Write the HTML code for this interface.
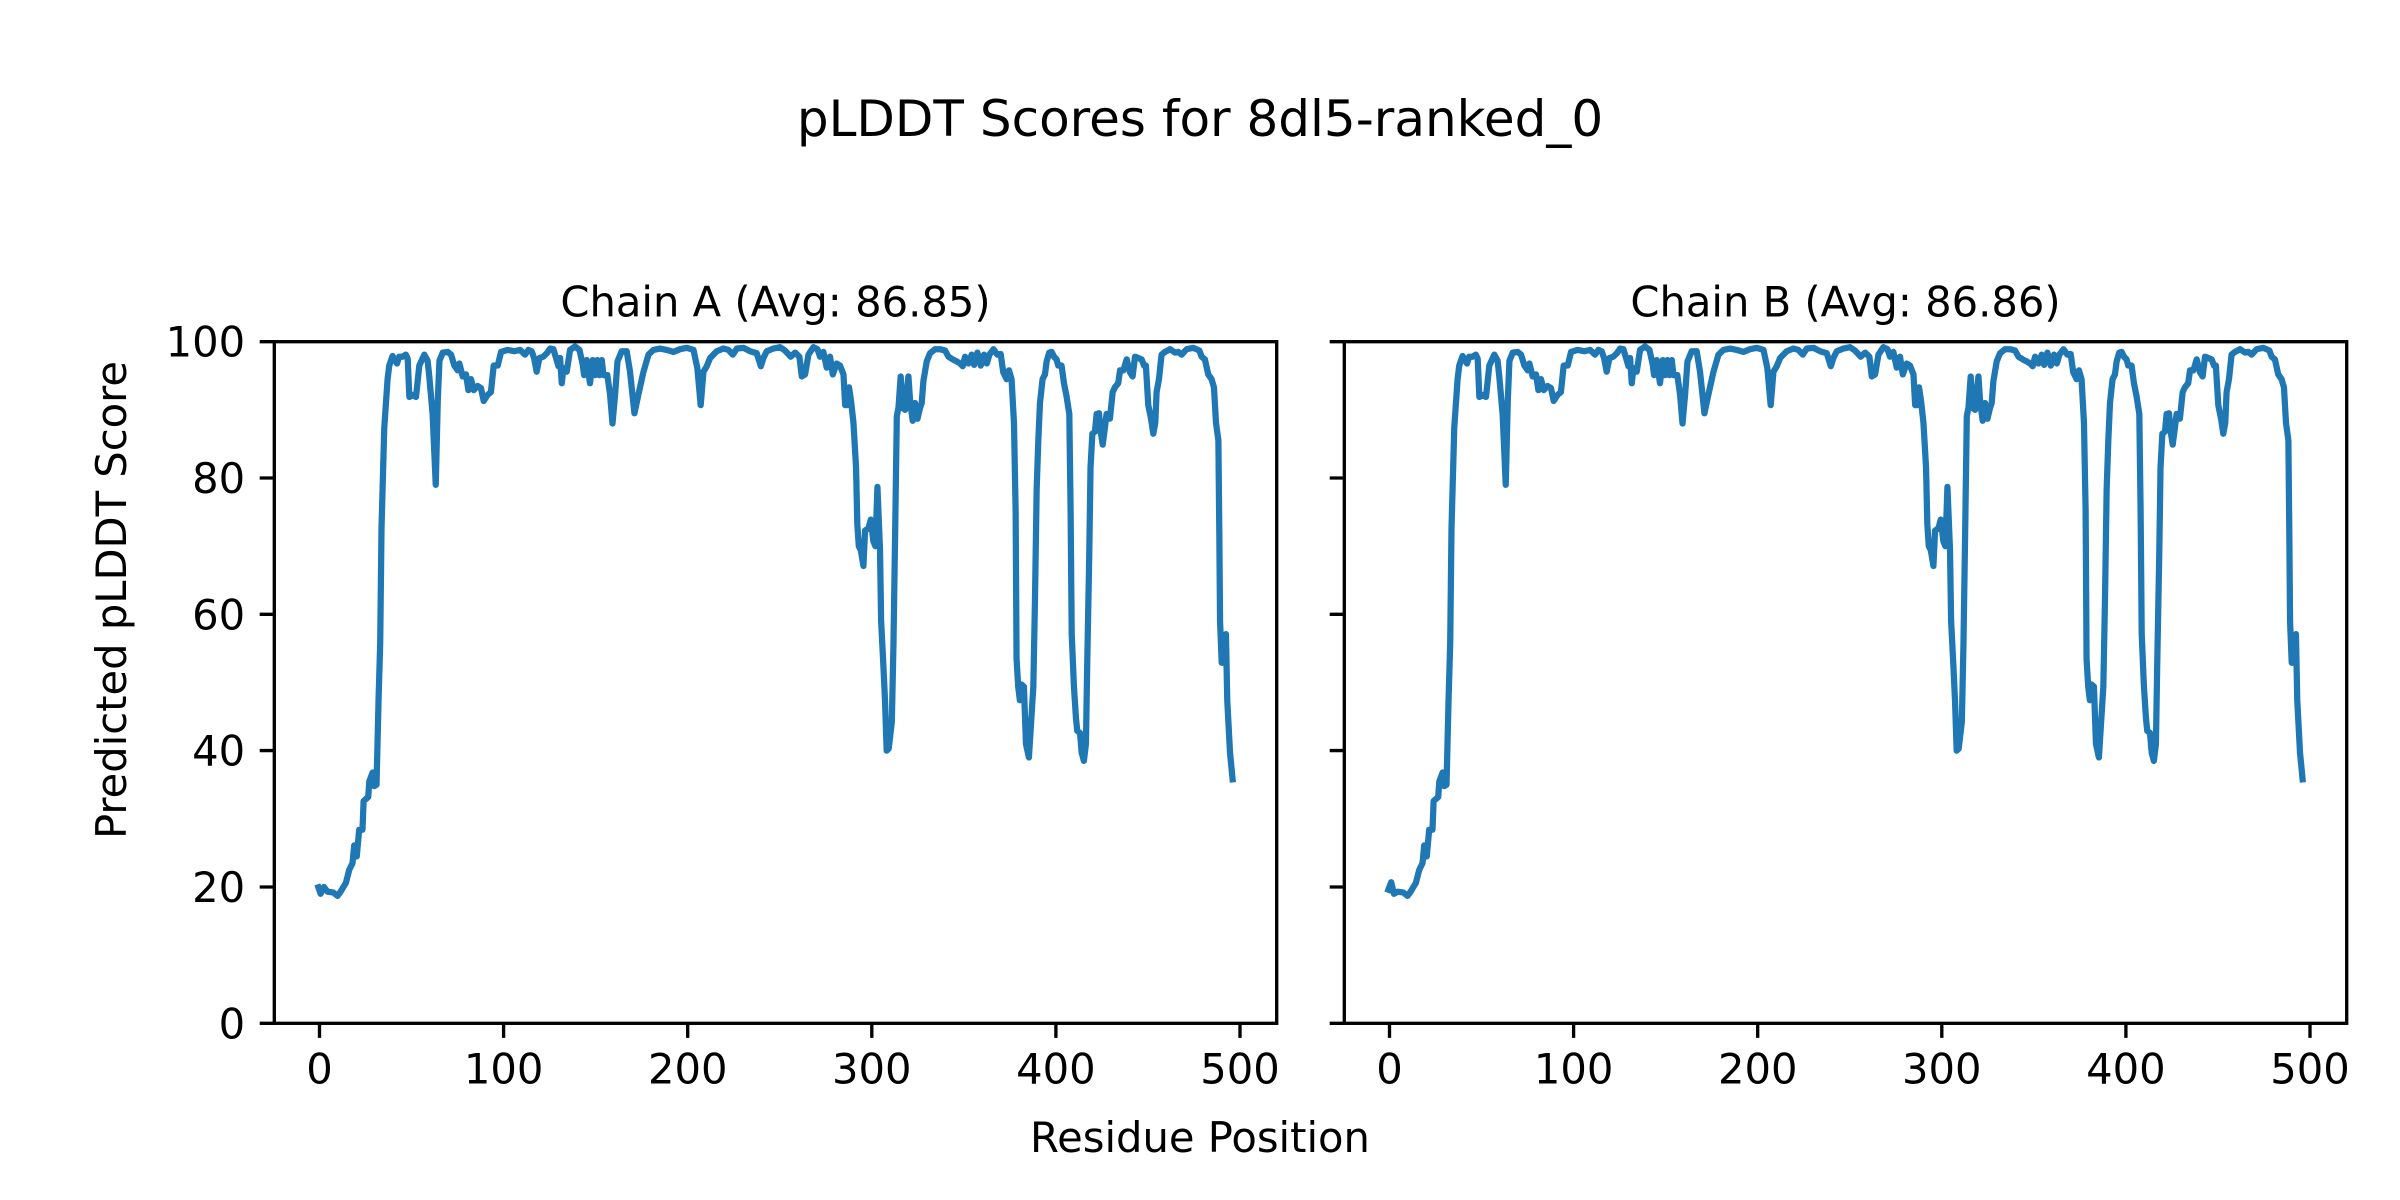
<!DOCTYPE html>
<html>
<head>
<meta charset="utf-8">
<style>
  html, body { margin: 0; padding: 0; background: #ffffff; }
  svg { display: block; }
  text { font-family: "DejaVu Sans", "Liberation Sans", sans-serif; fill: #000; }
</style>
</head>
<body>
<svg xmlns="http://www.w3.org/2000/svg" width="2400" height="1200" viewBox="0 0 2400 1200">
  <rect x="0" y="0" width="2400" height="1200" fill="#ffffff"/>
  <defs>
    <clipPath id="clipA" clipPathUnits="userSpaceOnUse">
      <rect x="274.3" y="341.7" width="1002.4" height="681.6"/>
    </clipPath>
    <clipPath id="clipB" clipPathUnits="userSpaceOnUse">
      <rect x="1344.3" y="341.7" width="1002.4" height="681.6"/>
    </clipPath>
  </defs>

  <!-- Suptitle -->
  <text x="1200" y="136" font-size="50" text-anchor="middle">pLDDT Scores for 8dl5-ranked_0</text>

  <!-- Subplot titles -->
  <text x="775.5" y="316.7" font-size="41.67" text-anchor="middle">Chain A (Avg: 86.85)</text>
  <text x="1845.5" y="316.7" font-size="41.67" text-anchor="middle">Chain B (Avg: 86.86)</text>

  <!-- Left panel data -->
  <g clip-path="url(#clipA)">
    <g transform="translate(318.4,1023.3) scale(1.845,-6.816)">
      <polyline fill="none" stroke="#1f77b4" stroke-width="6.25" vector-effect="non-scaling-stroke" stroke-linejoin="round" stroke-linecap="square"
        points="0,19.95 1.2,19.0 3,20 5,19.3 8,19.2 10.4,18.7 12,19.3 14.9,20.6 16.7,22.5 18.5,23.5 19.4,26.1 20.8,24.5 22.1,28.4 23.9,28.4 24.5,32.6 27,33.2 27.6,35.5 29.4,36.8 30.3,34.8 31.5,35 32.6,47.4 33.5,55.8 34.2,72.6 35.7,87.4 37.5,94.5 38.4,96.5 40.2,97.9 42.6,96.8 43.8,97.8 45.6,97.8 47.4,98.1 48.4,97.5 49.3,91.9 51.1,92.2 52.9,91.9 54.7,96.5 57.4,98.1 59.2,97.2 60.1,94.9 61.9,89.4 63.6,79 64.7,91.3 65.6,97.2 67.4,98.4 70.1,98.5 71.9,98.1 73.7,96.5 75.5,95.8 76.4,96.8 78.2,94.9 80,95.2 81.3,92.9 82.7,94.5 84.2,92.9 86.3,93.5 88.1,93.2 89.6,91.3 91.7,92.2 93.5,92.6 95,96.5 97.2,96.5 99,98.5 102.6,98.8 106.2,98.6 109.3,98.8 112,98.1 113.8,98.8 115.6,98.6 116.9,97.6 118.3,95.6 119.8,97.6 121.9,97.8 123.8,98.3 125.6,99.0 127.4,98.9 128.8,97.6 130.1,96.4 131,97.6 131.9,93.9 132.8,96.1 134.6,95.6 136.4,98.8 139.1,99.3 141.5,98.8 143.3,96.6 144,95.1 145.4,97.3 147.2,93.9 148.7,97.3 150,95.1 151.2,97.3 152.3,95.1 153.6,97.3 154.5,95.1 156.6,95.1 158.1,92.2 159.4,88.0 160.8,92.2 162.1,97.1 164.4,98.6 167.1,98.6 168.9,95.6 171.3,89.5 173.4,92.2 176.2,95.6 178.9,98.1 181.6,98.8 185.2,99.0 188.8,98.8 192.4,98.5 196,98.9 199.7,99.1 203.3,98.8 205.4,96.1 207.2,90.7 208.7,95.6 210.5,96.4 212.3,97.6 215.9,98.6 219.5,99.0 222.2,98.8 224.6,98.1 226.8,99.0 230.4,99.1 234,98.6 237.6,98.3 239.8,96.4 241.2,97.6 243,98.6 246.6,99.0 250.2,99.2 252.9,98.7 256,97.8 258.4,98.4 260.7,97.8 262,94.9 263.8,95.2 265.6,98.1 268.3,99.2 270.5,98.9 271.9,97.8 273.7,98.5 275.5,96.2 277.3,97.8 278.8,95.2 280.9,96.8 282.7,96.5 284.6,95.2 285.5,90.7 286.7,90.7 287.6,93.3 288.7,91.3 290,88.1 291.4,81.6 292.1,73.2 292.9,70.0 294,69.4 295.4,67.1 296.3,72.3 298.1,72.6 299.4,73.9 300.8,70.7 301.9,70.0 303,78.7 304.4,69.4 305,59.0 306.2,52.6 307.1,47.4 308,40.0 309.1,40.3 310.8,44.2 311.7,55.8 312.6,72.0 313.5,89.1 314.4,90.3 315.6,94.9 316.7,90.3 318,90.0 319.8,94.9 320.7,91.3 322.1,88.4 323.4,91.0 324.7,88.7 326.1,90.3 327,91.0 327.9,94.2 329.7,97.1 331.5,98.3 334.2,98.9 337,98.9 339.7,98.7 341.5,97.8 343.8,97.4 346,97.1 347.8,96.8 349.2,96.4 350.5,97.8 352.3,96.8 354.1,98.1 355.4,96.6 357.2,98.4 359,96.5 360.8,98.1 362.3,96.8 363.7,98.1 365.9,98.9 368,98.1 369.8,98.2 371.2,95.5 373,94.5 374.3,95.8 375.7,94.5 377,88.1 377.9,75.2 378.4,53.5 379.3,49.4 380.2,47.4 381.1,49.7 382.4,49.4 383.5,41.0 385.1,39.0 386,42.9 387.5,49.4 388.4,62.3 389.3,78.4 390.2,85.5 391.1,91.0 392.5,94.5 393.8,95.2 394.7,97.1 396.1,98.4 397.4,98.5 398.7,97.8 400.1,97.4 401,96.5 402.8,96.5 404.1,93.9 405.5,92.0 407,89.4 407.7,75.2 408.3,57.1 409.5,49.4 410.6,44.8 411.3,42.9 412.8,42.6 413.7,39.7 414.9,38.5 416,41.0 416.7,52.6 417.8,68.7 418.5,81.6 419.5,86.5 420.9,86.8 421.8,89.4 423.1,89.5 424,86.8 425.1,84.9 426.3,87.4 427.2,89.4 429,88.7 430.5,92.6 431.7,93.3 433.5,93.9 434.5,95.8 436.3,95.8 438.1,97.4 439.9,95.5 441.3,94.9 442.6,97.8 444.4,97.6 446.2,97.4 447.5,96.5 448.5,96.5 449.8,90.7 451.3,88.7 452.5,86.5 453.6,88.1 454.3,92.6 455.6,94.5 457,98.1 458.8,98.5 461.6,98.9 464.3,98.4 466.1,98.5 467.9,98.1 470.6,98.9 474.2,99.1 477.5,98.7 478.7,97.8 480.5,97.4 482.3,95.2 484.1,94.5 485.4,93.3 486.5,88.1 487.8,85.5 488.3,72.0 488.7,59.0 489.6,52.9 490.8,52.9 491.9,57.1 492.6,47.4 494.1,39.7 495.5,35.8"/>
    </g>
  </g>

  <!-- Right panel data -->
  <g clip-path="url(#clipB)">
    <g transform="translate(1388.4,1023.3) scale(1.845,-6.816)">
      <polyline fill="none" stroke="#1f77b4" stroke-width="6.25" vector-effect="non-scaling-stroke" stroke-linejoin="round" stroke-linecap="square"
        points="0,19.6 1.5,20.7 3,19.0 5,19.3 8,19.2 10.4,18.7 12,19.3 14.9,20.6 16.7,22.5 18.5,23.5 19.4,26.1 20.8,24.5 22.1,28.4 23.9,28.4 24.5,32.6 27,33.2 27.6,35.5 29.4,36.8 30.3,34.8 31.5,35 32.6,47.4 33.5,55.8 34.2,72.6 35.7,87.4 37.5,94.5 38.4,96.5 40.2,97.9 42.6,96.8 43.8,97.8 45.6,97.8 47.4,98.1 48.4,97.5 49.3,91.9 51.1,92.2 52.9,91.9 54.7,96.5 57.4,98.1 59.2,97.2 60.1,94.9 61.9,89.4 63.6,79 64.7,91.3 65.6,97.2 67.4,98.4 70.1,98.5 71.9,98.1 73.7,96.5 75.5,95.8 76.4,96.8 78.2,94.9 80,95.2 81.3,92.9 82.7,94.5 84.2,92.9 86.3,93.5 88.1,93.2 89.6,91.3 91.7,92.2 93.5,92.6 95,96.5 97.2,96.5 99,98.5 102.6,98.8 106.2,98.6 109.3,98.8 112,98.1 113.8,98.8 115.6,98.6 116.9,97.6 118.3,95.6 119.8,97.6 121.9,97.8 123.8,98.3 125.6,99.0 127.4,98.9 128.8,97.6 130.1,96.4 131,97.6 131.9,93.9 132.8,96.1 134.6,95.6 136.4,98.8 139.1,99.3 141.5,98.8 143.3,96.6 144,95.1 145.4,97.3 147.2,93.9 148.7,97.3 150,95.1 151.2,97.3 152.3,95.1 153.6,97.3 154.5,95.1 156.6,95.1 158.1,92.2 159.4,88.0 160.8,92.2 162.1,97.1 164.4,98.6 167.1,98.6 168.9,95.6 171.3,89.5 173.4,92.2 176.2,95.6 178.9,98.1 181.6,98.8 185.2,99.0 188.8,98.8 192.4,98.5 196,98.9 199.7,99.1 203.3,98.8 205.4,96.1 207.2,90.7 208.7,95.6 210.5,96.4 212.3,97.6 215.9,98.6 219.5,99.0 222.2,98.8 224.6,98.1 226.8,99.0 230.4,99.1 234,98.6 237.6,98.3 239.8,96.4 241.2,97.6 243,98.6 246.6,99.0 250.2,99.2 252.9,98.7 256,97.8 258.4,98.4 260.7,97.8 262,94.9 263.8,95.2 265.6,98.1 268.3,99.2 270.5,98.9 271.9,97.8 273.7,98.5 275.5,96.2 277.3,97.8 278.8,95.2 280.9,96.8 282.7,96.5 284.6,95.2 285.5,90.7 286.7,90.7 287.6,93.3 288.7,91.3 290,88.1 291.4,81.6 292.1,73.2 292.9,70.0 294,69.4 295.4,67.1 296.3,72.3 298.1,72.6 299.4,73.9 300.8,70.7 301.9,70.0 303,78.7 304.4,69.4 305,59.0 306.2,52.6 307.1,47.4 308,40.0 309.1,40.3 310.8,44.2 311.7,55.8 312.6,72.0 313.5,89.1 314.4,90.3 315.6,94.9 316.7,90.3 318,90.0 319.8,94.9 320.7,91.3 322.1,88.4 323.4,91.0 324.7,88.7 326.1,90.3 327,91.0 327.9,94.2 329.7,97.1 331.5,98.3 334.2,98.9 337,98.9 339.7,98.7 341.5,97.8 343.8,97.4 346,97.1 347.8,96.8 349.2,96.4 350.5,97.8 352.3,96.8 354.1,98.1 355.4,96.6 357.2,98.4 359,96.5 360.8,98.1 362.3,96.8 363.7,98.1 365.9,98.9 368,98.1 369.8,98.2 371.2,95.5 373,94.5 374.3,95.8 375.7,94.5 377,88.1 377.9,75.2 378.4,53.5 379.3,49.4 380.2,47.4 381.1,49.7 382.4,49.4 383.5,41.0 385.1,39.0 386,42.9 387.5,49.4 388.4,62.3 389.3,78.4 390.2,85.5 391.1,91.0 392.5,94.5 393.8,95.2 394.7,97.1 396.1,98.4 397.4,98.5 398.7,97.8 400.1,97.4 401,96.5 402.8,96.5 404.1,93.9 405.5,92.0 407,89.4 407.7,75.2 408.3,57.1 409.5,49.4 410.6,44.8 411.3,42.9 412.8,42.6 413.7,39.7 414.9,38.5 416,41.0 416.7,52.6 417.8,68.7 418.5,81.6 419.5,86.5 420.9,86.8 421.8,89.4 423.1,89.5 424,86.8 425.1,84.9 426.3,87.4 427.2,89.4 429,88.7 430.5,92.6 431.7,93.3 433.5,93.9 434.5,95.8 436.3,95.8 438.1,97.4 439.9,95.5 441.3,94.9 442.6,97.8 444.4,97.6 446.2,97.4 447.5,96.5 448.5,96.5 449.8,90.7 451.3,88.7 452.5,86.5 453.6,88.1 454.3,92.6 455.6,94.5 457,98.1 458.8,98.5 461.6,98.9 464.3,98.4 466.1,98.5 467.9,98.1 470.6,98.9 474.2,99.1 477.5,98.7 478.7,97.8 480.5,97.4 482.3,95.2 484.1,94.5 485.4,93.3 486.5,88.1 487.8,85.5 488.3,72.0 488.7,59.0 489.6,52.9 490.8,52.9 491.9,57.1 492.6,47.4 494.1,39.7 495.5,35.8"/>
    </g>
  </g>

  <!-- Spines -->
  <rect x="274.3" y="341.7" width="1002.4" height="681.6" fill="none" stroke="#000" stroke-width="3.33" stroke-linejoin="miter"/>
  <rect x="1344.3" y="341.7" width="1002.4" height="681.6" fill="none" stroke="#000" stroke-width="3.33" stroke-linejoin="miter"/>

  <!-- Ticks -->
  <path fill="none" stroke="#000" stroke-width="3.33"
    d="M259.7 1023.3H274.3 M259.7 887.0H274.3 M259.7 750.6H274.3 M259.7 614.3H274.3 M259.7 478.0H274.3 M259.7 341.7H274.3
       M319.5 1023.3V1037.9 M503.6 1023.3V1037.9 M687.7 1023.3V1037.9 M871.8 1023.3V1037.9 M1055.9 1023.3V1037.9 M1240 1023.3V1037.9
       M1329.7 1023.3H1344.3 M1329.7 887.0H1344.3 M1329.7 750.6H1344.3 M1329.7 614.3H1344.3 M1329.7 478.0H1344.3 M1329.7 341.7H1344.3
       M1389.5 1023.3V1037.9 M1573.6 1023.3V1037.9 M1757.7 1023.3V1037.9 M1941.8 1023.3V1037.9 M2125.9 1023.3V1037.9 M2310 1023.3V1037.9"/>

  <!-- Y tick labels (left panel) -->
  <g font-size="41.67" text-anchor="end">
    <text x="245.1" y="1038.3">0</text>
    <text x="245.1" y="902.0">20</text>
    <text x="245.1" y="765.6">40</text>
    <text x="245.1" y="629.3">60</text>
    <text x="245.1" y="493.0">80</text>
    <text x="245.1" y="356.7">100</text>
  </g>

  <!-- X tick labels -->
  <g font-size="41.67" text-anchor="middle">
    <text x="319.5" y="1083.5">0</text>
    <text x="503.6" y="1083.5">100</text>
    <text x="687.7" y="1083.5">200</text>
    <text x="871.8" y="1083.5">300</text>
    <text x="1055.9" y="1083.5">400</text>
    <text x="1240" y="1083.5">500</text>
    <text x="1389.5" y="1083.5">0</text>
    <text x="1573.6" y="1083.5">100</text>
    <text x="1757.7" y="1083.5">200</text>
    <text x="1941.8" y="1083.5">300</text>
    <text x="2125.9" y="1083.5">400</text>
    <text x="2310" y="1083.5">500</text>
  </g>

  <!-- Axis labels -->
  <text x="1200" y="1152" font-size="41.67" text-anchor="middle">Residue Position</text>
  <text transform="translate(126,600) rotate(-90)" font-size="41.67" text-anchor="middle">Predicted pLDDT Score</text>
</svg>
</body>
</html>
